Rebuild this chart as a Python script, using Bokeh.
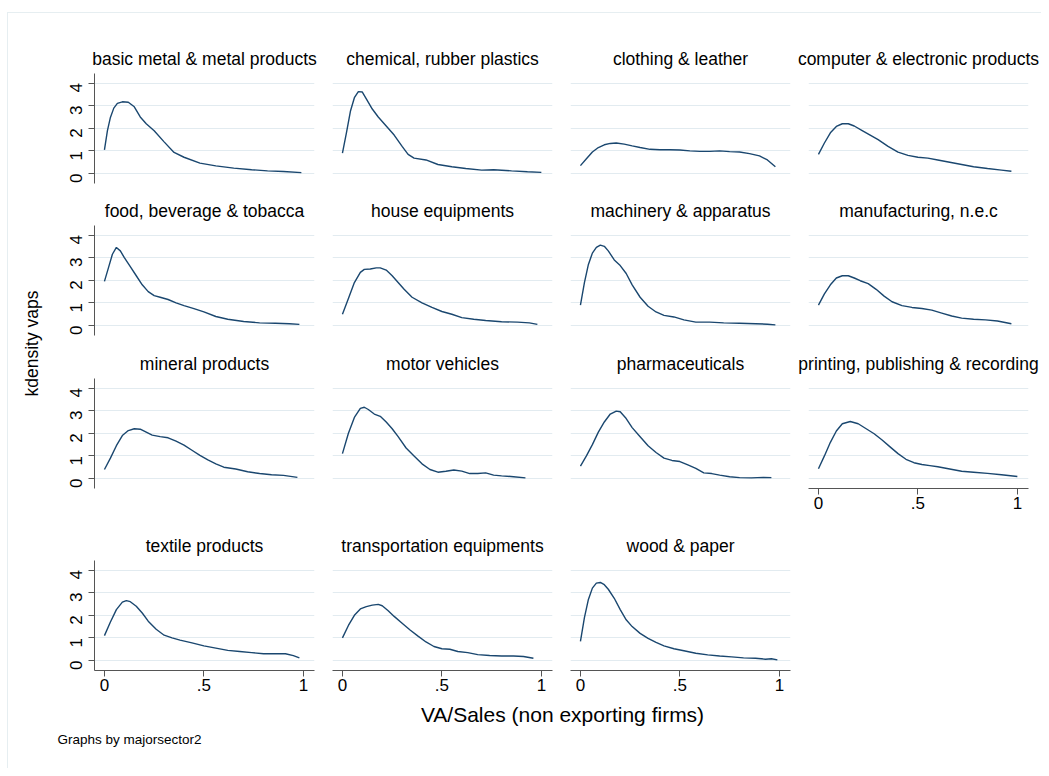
import math
from bokeh.plotting import figure
from bokeh.layouts import row, column
from bokeh.models import Range1d, FixedTicker, Label, CustomJSTickFormatter
from bokeh.embed import file_html
from bokeh.resources import INLINE

# ---------------- data ----------------
sectors = [
    "basic metal & metal products", "chemical, rubber plastics", "clothing & leather",
    "computer & electronic products", "food, beverage & tobacca", "house equipments",
    "machinery & apparatus", "manufacturing, n.e.c", "mineral products", "motor vehicles",
    "pharmaceuticals", "printing, publishing & recording", "textile products",
    "transportation equipments", "wood & paper",
]

x_tick_values = [0, 0.5, 1]
x_tick_labels = ["0", ".5", "1"]
y_tick_values = [0, 1, 2, 3, 4]
y_tick_labels = ["0", "1", "2", "3", "4"]

x_basic_metal = [0, .015, .03, .047, .065, .09, .12, .15, .18, .21, .25, .30, .35, .40, .48, .56, .65, .74, .82, .90, .99]
y_basic_metal = [1.05, 1.9, 2.48, 2.89, 3.1, 3.17, 3.15, 2.95, 2.5, 2.2, 1.89, 1.4, 0.93, 0.72, 0.46, 0.34, 0.24, 0.17, 0.12, 0.09, 0.04]

x_chemical = [0, .02, .04, .06, .08, .10, .12, .15, .18, .22, .26, .30, .33, .36, .42, .48, .55, .62, .70, .76, .85, .93, 1.0]
y_chemical = [0.9, 1.8, 2.75, 3.35, 3.62, 3.6, 3.3, 2.85, 2.5, 2.1, 1.7, 1.2, 0.85, 0.68, 0.6, 0.4, 0.3, 0.22, 0.15, 0.17, 0.12, 0.08, 0.05]

x_clothing = [0, .03, .06, .09, .12, .15, .18, .22, .26, .30, .35, .40, .45, .50, .55, .60, .65, .70, .75, .80, .85, .90, .94, .98]
y_clothing = [0.35, 0.65, 0.95, 1.15, 1.27, 1.33, 1.35, 1.3, 1.22, 1.15, 1.07, 1.05, 1.05, 1.04, 1.0, 0.98, 0.98, 1.0, 0.97, 0.95, 0.88, 0.78, 0.6, 0.3]

x_computer = [0, .03, .06, .09, .12, .15, .18, .22, .26, .30, .35, .40, .45, .50, .55, .60, .66, .72, .78, .85, .92, .97]
y_computer = [0.85, 1.35, 1.8, 2.08, 2.2, 2.2, 2.1, 1.9, 1.7, 1.5, 1.2, 0.95, 0.8, 0.72, 0.68, 0.6, 0.5, 0.4, 0.3, 0.22, 0.15, 0.1]

x_food = [0, .02, .04, .06, .08, .10, .13, .16, .19, .22, .25, .28, .32, .36, .40, .45, .50, .56, .62, .70, .78, .86, .93, .98]
y_food = [1.95, 2.55, 3.15, 3.45, 3.3, 3.0, 2.6, 2.2, 1.8, 1.5, 1.32, 1.25, 1.15, 1.0, 0.88, 0.75, 0.6, 0.4, 0.28, 0.18, 0.12, 0.1, 0.08, 0.05]

x_house = [0, .03, .06, .09, .11, .14, .17, .19, .22, .25, .28, .31, .35, .40, .45, .50, .55, .60, .66, .72, .80, .88, .94, .98]
y_house = [0.5, 1.2, 1.9, 2.35, 2.48, 2.5, 2.55, 2.55, 2.45, 2.2, 1.9, 1.6, 1.25, 1.0, 0.8, 0.62, 0.5, 0.35, 0.28, 0.22, 0.17, 0.15, 0.12, 0.05]

x_machinery = [0, .02, .04, .06, .08, .10, .12, .14, .17, .20, .23, .26, .30, .34, .38, .42, .47, .52, .58, .65, .72, .80, .88, .94, .98]
y_machinery = [0.9, 1.9, 2.7, 3.2, 3.45, 3.55, 3.5, 3.3, 2.9, 2.65, 2.3, 1.8, 1.25, 0.85, 0.6, 0.45, 0.38, 0.25, 0.15, 0.15, 0.12, 0.1, 0.08, 0.06, 0.03]

x_manufacturing = [0, .03, .06, .09, .12, .15, .18, .21, .25, .29, .33, .37, .42, .47, .52, .57, .62, .67, .72, .78, .84, .90, .97]
y_manufacturing = [0.9, 1.4, 1.8, 2.1, 2.2, 2.2, 2.1, 1.98, 1.85, 1.6, 1.3, 1.05, 0.88, 0.8, 0.75, 0.68, 0.55, 0.42, 0.33, 0.28, 0.25, 0.2, 0.08]

x_mineral = [0, .03, .06, .09, .12, .15, .18, .21, .24, .28, .32, .36, .40, .44, .48, .52, .56, .60, .66, .72, .78, .84, .90, .97]
y_mineral = [0.4, 0.9, 1.45, 1.9, 2.12, 2.2, 2.18, 2.05, 1.92, 1.85, 1.8, 1.65, 1.48, 1.25, 1.02, 0.82, 0.65, 0.5, 0.42, 0.3, 0.22, 0.17, 0.14, 0.05]

x_motor = [0, .03, .06, .09, .11, .13, .16, .19, .22, .25, .28, .32, .36, .40, .44, .48, .52, .56, .60, .64, .68, .72, .76, .80, .86, .92]
y_motor = [1.1, 2.0, 2.7, 3.1, 3.15, 3.05, 2.85, 2.75, 2.5, 2.2, 1.85, 1.35, 1.0, 0.65, 0.4, 0.28, 0.32, 0.38, 0.33, 0.22, 0.22, 0.25, 0.15, 0.12, 0.08, 0.03]

x_pharma = [0, .03, .06, .09, .12, .15, .18, .20, .23, .26, .30, .34, .38, .42, .46, .50, .54, .58, .62, .66, .70, .75, .80, .86, .92, .96]
y_pharma = [0.55, 1.0, 1.5, 2.05, 2.5, 2.85, 2.98, 2.95, 2.65, 2.25, 1.85, 1.45, 1.15, 0.9, 0.8, 0.75, 0.6, 0.45, 0.25, 0.22, 0.15, 0.08, 0.04, 0.03, 0.05, 0.04]

x_printing = [0, .03, .06, .09, .12, .16, .20, .24, .28, .32, .36, .40, .44, .48, .52, .56, .60, .66, .72, .78, .85, .92, 1.0]
y_printing = [0.43, 1.0, 1.6, 2.1, 2.42, 2.52, 2.42, 2.2, 1.98, 1.7, 1.4, 1.1, 0.85, 0.7, 0.62, 0.57, 0.52, 0.42, 0.32, 0.28, 0.23, 0.17, 0.09]

x_textile = [0, .03, .06, .09, .11, .13, .16, .19, .22, .26, .30, .34, .38, .44, .50, .56, .62, .68, .74, .80, .86, .91, .95, .98]
y_textile = [1.1, 1.7, 2.25, 2.58, 2.65, 2.6, 2.4, 2.1, 1.74, 1.38, 1.12, 1.0, 0.9, 0.78, 0.65, 0.55, 0.45, 0.4, 0.35, 0.3, 0.3, 0.3, 0.22, 0.12]

x_transport = [0, .03, .06, .09, .12, .15, .18, .20, .23, .26, .30, .34, .38, .42, .46, .50, .54, .58, .63, .68, .74, .80, .86, .91, .96]
y_transport = [1.0, 1.55, 2.0, 2.28, 2.38, 2.45, 2.48, 2.42, 2.2, 1.95, 1.65, 1.35, 1.08, 0.82, 0.62, 0.52, 0.5, 0.4, 0.35, 0.26, 0.22, 0.2, 0.2, 0.18, 0.1]

x_wood = [0, .02, .04, .06, .08, .10, .12, .14, .17, .20, .23, .26, .30, .34, .38, .42, .47, .52, .58, .64, .70, .76, .82, .88, .93, .96, .99]
y_wood = [0.85, 1.9, 2.7, 3.2, 3.42, 3.45, 3.35, 3.15, 2.75, 2.25, 1.8, 1.5, 1.2, 0.98, 0.8, 0.65, 0.52, 0.43, 0.32, 0.25, 0.2, 0.16, 0.12, 0.1, 0.06, 0.08, 0.03]

curves = [
    (x_basic_metal, y_basic_metal), (x_chemical, y_chemical), (x_clothing, y_clothing),
    (x_computer, y_computer), (x_food, y_food), (x_house, y_house),
    (x_machinery, y_machinery), (x_manufacturing, y_manufacturing), (x_mineral, y_mineral),
    (x_motor, y_motor), (x_pharma, y_pharma), (x_printing, y_printing),
    (x_textile, y_textile), (x_transport, y_transport), (x_wood, y_wood),
]

y_title = "kdensity vaps"
x_title = "VA/Sales (non exporting firms)"
note = "Graphs by majorsector2"

# ---------------- style / layout ----------------
FONT = "Liberation Sans"
NAVY = "#1a476f"
GRID = "#e2ebf0"
AXIS = "#555555"
X_RANGE = (-0.05, 1.056)
Y_RANGE = (-0.44, 4.42)

col_widths = [269, 238, 234, 246]
col_left = [40, 9, 9, 13]
col_right = [9, 9, 5, 13]
row_heights = [180, 152, 183, 170]
row_top = [60, 32, 33, 32]
row_bottom = [10, 10, 40, 28]

def fmt(values, labels):
    return CustomJSTickFormatter(args=dict(vals=values, labs=labels),
                                 code="const i = vals.indexOf(tick); return i >= 0 ? labs[i] : String(tick);")

def style_axis(ax):
    ax.axis_line_color = AXIS
    ax.axis_line_width = 1
    ax.major_tick_line_color = AXIS
    ax.major_tick_out = 6
    ax.major_tick_in = 0
    ax.minor_tick_line_color = None
    ax.major_label_text_font = FONT
    ax.major_label_text_font_size = "17px"
    ax.major_label_text_color = "#000000"

def make_panel(i):
    r, c = divmod(i, 4)
    xs, ys = curves[i]
    show_x = (r == 3) or (r == 2 and c == 3)
    show_y = (c == 0)
    p = figure(width=col_widths[c], height=row_heights[r],
               x_range=Range1d(*X_RANGE), y_range=Range1d(*Y_RANGE),
               output_backend="svg", toolbar_location=None,
               min_border_left=col_left[c], min_border_right=col_right[c],
               min_border_top=row_top[r], min_border_bottom=row_bottom[r],
               title=sectors[i])
    p.title.align = "center"
    p.title.text_font = FONT
    p.title.text_font_size = "17.5px"
    p.title.text_font_style = "normal"
    p.title.text_color = "#000000"
    p.title.standoff = 9
    p.outline_line_color = None
    p.background_fill_color = "white"
    p.border_fill_color = "white"
    p.xgrid.visible = False
    p.ygrid.ticker = FixedTicker(ticks=y_tick_values)
    p.ygrid.grid_line_color = GRID
    p.ygrid.grid_line_width = 1

    p.xaxis.ticker = FixedTicker(ticks=x_tick_values)
    p.xaxis.formatter = fmt(x_tick_values, x_tick_labels)
    p.yaxis.ticker = FixedTicker(ticks=y_tick_values)
    p.yaxis.formatter = fmt(y_tick_values, y_tick_labels)
    style_axis(p.xaxis[0])
    style_axis(p.yaxis[0])
    p.xaxis.major_label_standoff = 2
    p.yaxis.major_label_standoff = 12
    p.yaxis.major_label_orientation = math.pi / 2
    p.xaxis.visible = show_x
    p.yaxis.visible = show_y

    p.line(xs, ys, line_color=NAVY, line_width=1.4)
    return p

panels = [make_panel(i) for i in range(len(sectors))]
panel_rows = [row(*panels[k:k + 4]) for k in range(0, len(panels), 4)]

def blank(w, h):
    f = figure(width=w, height=h, x_range=Range1d(0, w), y_range=Range1d(0, h),
               output_backend="svg", toolbar_location=None,
               min_border=0, min_border_left=0, min_border_right=0,
               min_border_top=0, min_border_bottom=0)
    f.axis.visible = False
    f.grid.visible = False
    f.outline_line_color = None
    f.background_fill_color = "white"
    f.border_fill_color = "white"
    return f

ORIGIN_X = 8
ORIGIN_Y = 13
ylab_h = sum(row_heights)
ylab = blank(46, ylab_h)
ylab.add_layout(Label(x=31 - ORIGIN_X, y=ylab_h - (343 - ORIGIN_Y), text=y_title, angle=math.pi / 2,
                      text_align="center", text_baseline="middle",
                      text_font=FONT, text_font_size="17.5px", text_color="#000000"))

bottom_top = ORIGIN_Y + ylab_h
bottom = blank(1033, 70)
bottom.add_layout(Label(x=562 - ORIGIN_X, y=70 - (714 - bottom_top), text=x_title,
                        text_align="center", text_baseline="alphabetic",
                        text_font=FONT, text_font_size="21px", text_color="#000000"))
bottom.add_layout(Label(x=57 - ORIGIN_X, y=70 - (739 - bottom_top), text=note,
                        text_align="left", text_baseline="alphabetic",
                        text_font=FONT, text_font_size="13.5px", text_color="#000000"))

layout = column(row(ylab, column(*panel_rows)), bottom,
                styles={"position": "absolute", "left": "7px", "top": "12px",
                        "border-left": "1px solid #e6eef1", "border-top": "1px solid #e6eef1"})

open("out.html", "w").write(file_html(layout, INLINE))
